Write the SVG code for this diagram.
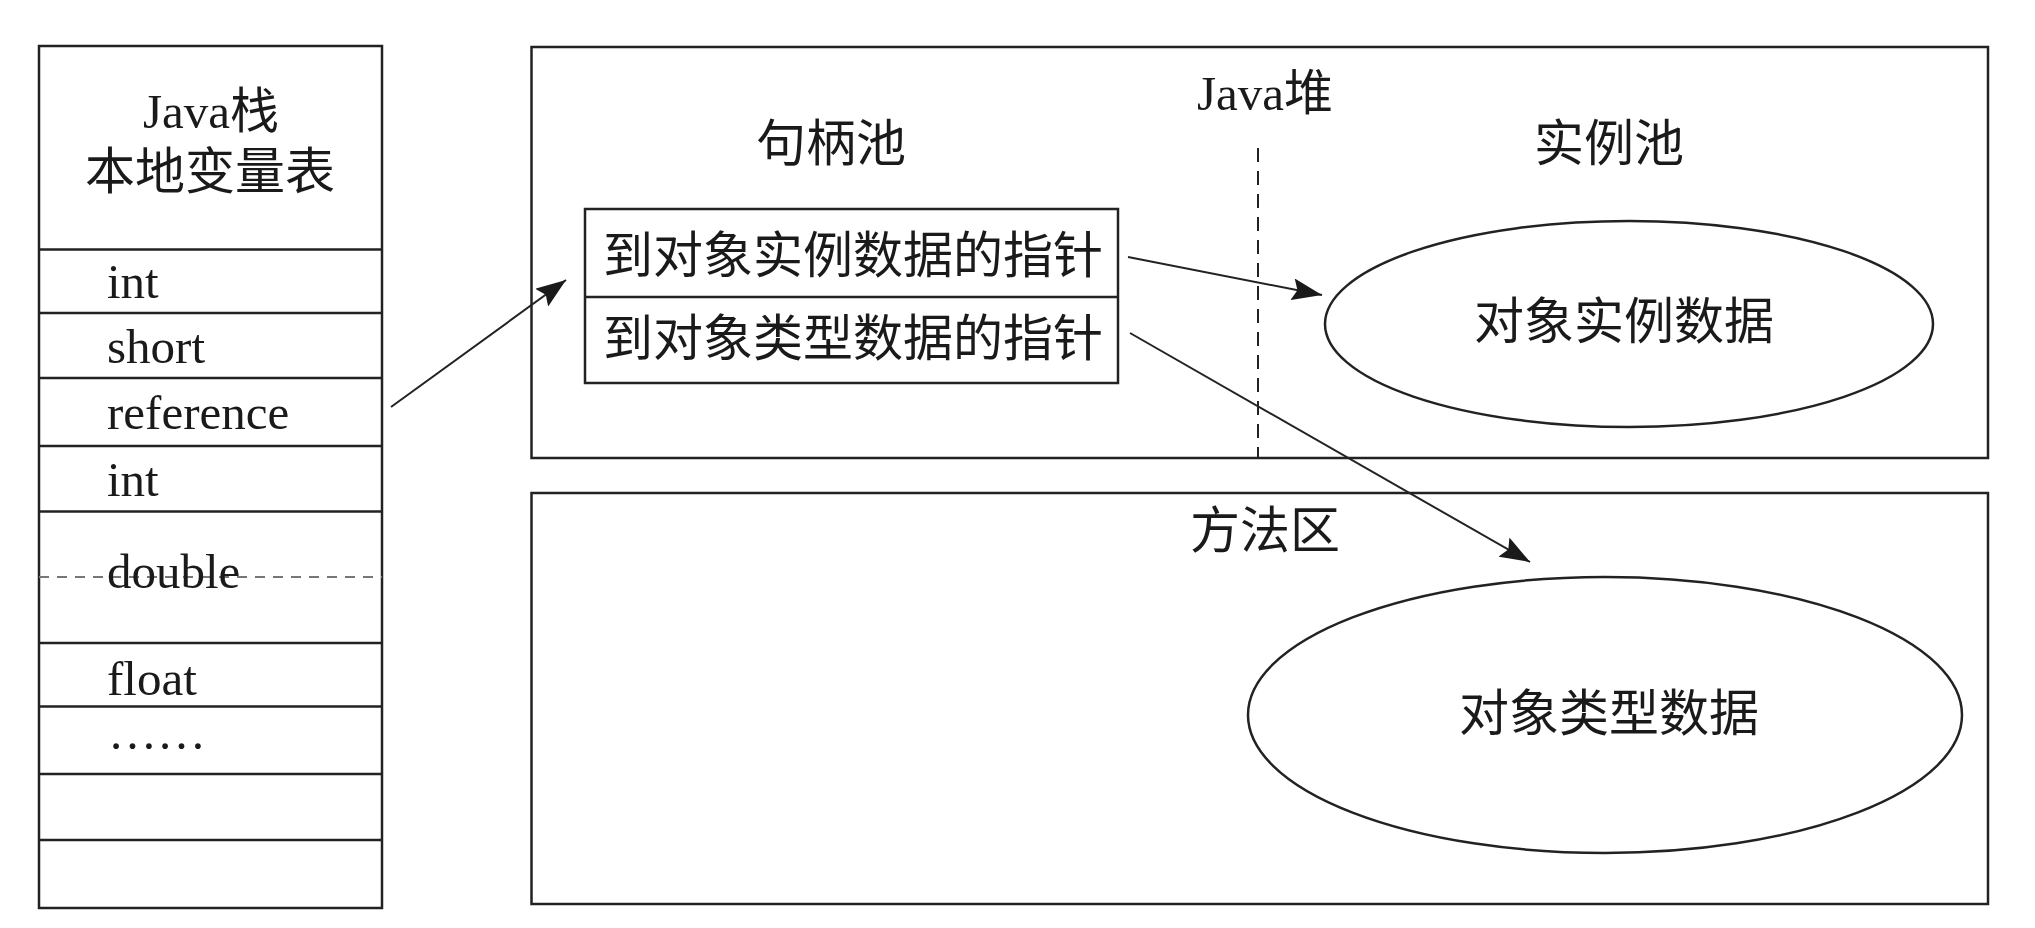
<svg xmlns="http://www.w3.org/2000/svg" width="2035" height="928" viewBox="0 0 2035 928">
  <style>
    .box { fill: none; stroke: #222; stroke-width: 2.5; }
    .line { stroke: #222; stroke-width: 2.5; fill: none; }
    .lat { font-family: "Liberation Serif", "Noto Sans CJK SC", serif; font-size: 49px; fill: #1a1a1a; }
    .cjk { font-family: "Liberation Serif", "Noto Sans CJK SC", serif; font-size: 50px; fill: #1a1a1a; }
    .mid { text-anchor: middle; }
    .conn { stroke: #222; stroke-width: 2; fill: none; marker-end: url(#arrow); }
  </style>
  <defs>
    <marker id="arrow" viewBox="0 0 30 22" refX="30" refY="11" markerWidth="30" markerHeight="22" markerUnits="userSpaceOnUse" orient="auto">
      <path d="M0,0 L30,11 L0,22 L5,11 z" fill="#1a1a1a"/>
    </marker>
  </defs>
  <rect width="2035" height="928" fill="#ffffff"/>

  <g id="java-stack">
    <rect class="box" x="39" y="46" width="343" height="862" stroke-width="3"/>
    <line class="line" x1="39" y1="249.5" x2="382" y2="249.5"/>
    <line class="line" x1="39" y1="313" x2="382" y2="313"/>
    <line class="line" x1="39" y1="378" x2="382" y2="378" stroke-width="3"/>
    <line class="line" x1="39" y1="446" x2="382" y2="446" stroke-width="3"/>
    <line class="line" x1="39" y1="511.5" x2="382" y2="511.5"/>
    <line class="line" x1="39" y1="643" x2="382" y2="643"/>
    <line class="line" x1="39" y1="706.5" x2="382" y2="706.5" stroke-width="3"/>
    <line class="line" x1="39" y1="774" x2="382" y2="774"/>
    <line class="line" x1="39" y1="840" x2="382" y2="840"/>
    <line x1="39" y1="577" x2="382" y2="577" stroke="#777" stroke-width="2" stroke-dasharray="10 8"/>
    <text class="lat mid" x="211" y="128">Java栈</text>
    <text class="cjk mid" x="210" y="189">本地变量表</text>
    <text class="lat" x="107" y="298">int</text>
    <text class="lat" x="107" y="363">short</text>
    <text class="lat" x="107" y="429">reference</text>
    <text class="lat" x="107" y="496">int</text>
    <text class="lat" x="107" y="588">double</text>
    <text class="lat" x="107" y="695">float</text>
    <text class="lat" x="108" y="749">……</text>
  </g>

  <g id="java-heap">
    <rect class="box" x="531.5" y="47" width="1456.5" height="411"/>
    <line x1="1258" y1="148" x2="1258" y2="458" stroke="#222" stroke-width="2" stroke-dasharray="14 9"/>
    <text class="lat mid" x="1265" y="110">Java堆</text>
    <text class="cjk mid" x="831" y="161">句柄池</text>
    <text class="cjk mid" x="1609" y="161">实例池</text>
  </g>

  <g id="handle">
    <rect class="box" x="585" y="209" width="533" height="174"/>
    <line class="line" x1="585" y1="297" x2="1118" y2="297"/>
    <text class="cjk" x="603" y="273">到对象实例数据的指针</text>
    <text class="cjk" x="603" y="356">到对象类型数据的指针</text>
  </g>

  <g id="instance-data">
    <ellipse class="box" cx="1629" cy="324" rx="304" ry="103" stroke-width="2"/>
    <text class="cjk mid" x="1624" y="339">对象实例数据</text>
  </g>

  <g id="method-area">
    <rect class="box" x="531.5" y="493" width="1456.5" height="411"/>
    <text class="cjk mid" x="1265" y="548">方法区</text>
  </g>

  <g id="type-data">
    <ellipse class="box" cx="1605" cy="715" rx="357" ry="138" stroke-width="2"/>
    <text class="cjk mid" x="1609" y="731">对象类型数据</text>
  </g>

  <g id="connectors">
    <line class="conn" x1="391" y1="407" x2="566" y2="280"/>
    <line class="conn" x1="1128" y1="257" x2="1322" y2="295"/>
    <line class="conn" x1="1130" y1="333" x2="1530" y2="562"/>
  </g>
</svg>
